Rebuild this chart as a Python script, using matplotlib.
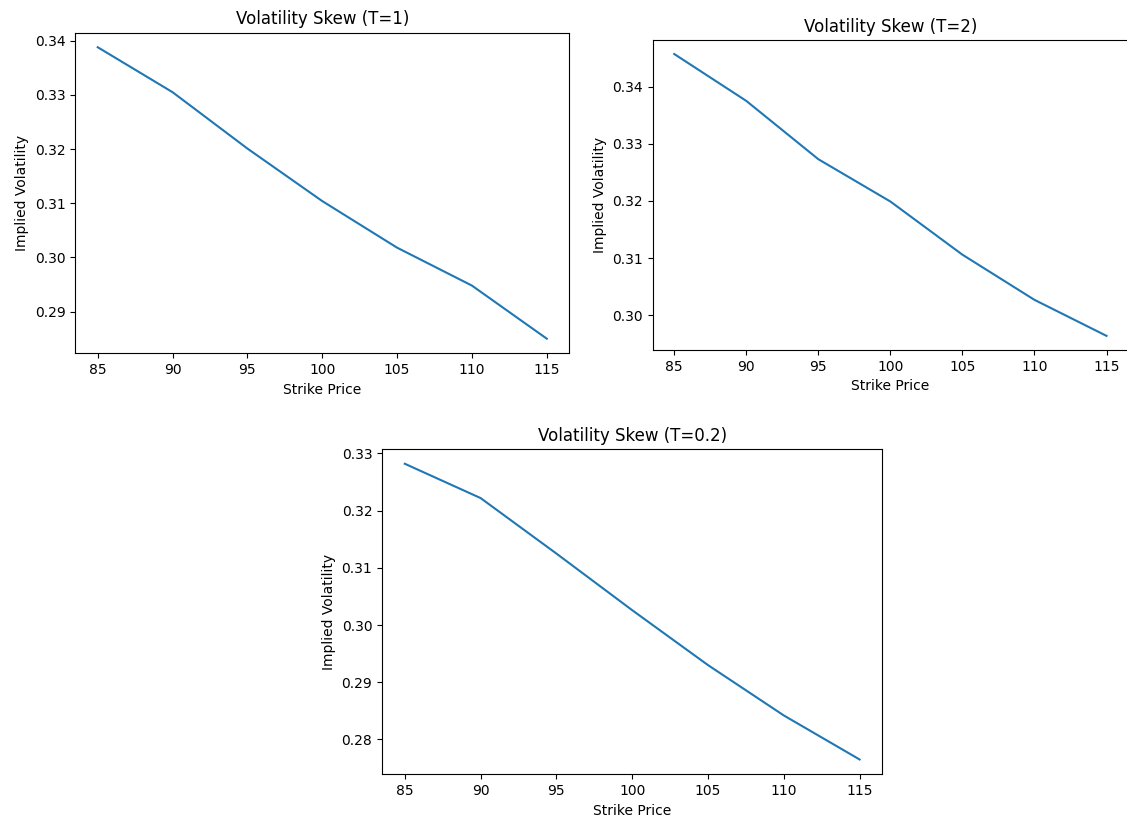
import numpy as np
import matplotlib
matplotlib.use("Agg")
import matplotlib.pyplot as plt

# strike grid shared by all maturities
strikes = [85, 90, 95, 100, 105, 110, 115]

# implied vol per maturity
iv_t1 = [0.3388, 0.3305, 0.3201, 0.3104, 0.3018, 0.2948, 0.2850]
iv_t2 = [0.3457, 0.3375, 0.3273, 0.3199, 0.3106, 0.3027, 0.2964]
iv_t02 = [0.3282, 0.3222, 0.3125, 0.3026, 0.2930, 0.2842, 0.2765]

fig = plt.figure(figsize=(11.27, 8.25), dpi=100)

ax1 = fig.add_axes([0.0668, 0.5718, 0.4383, 0.3886])
# right-hand panel runs up to the figure edge
ax2 = fig.add_axes([0.5791, 0.5758, 0.4219, 0.3758])
ax3 = fig.add_axes([0.3390, 0.0615, 0.4439, 0.3943])

for ax, iv, T in [(ax1, iv_t1, "1"), (ax2, iv_t2, "2"), (ax3, iv_t02, "0.2")]:
    ax.plot(strikes, iv)
    ax.set_title(f"Volatility Skew (T={T})")
    ax.set_xlabel("Strike Price")
    ax.set_ylabel("Implied Volatility")
    ax.set_xticks(strikes)

fig.savefig("out.png", dpi=100)
